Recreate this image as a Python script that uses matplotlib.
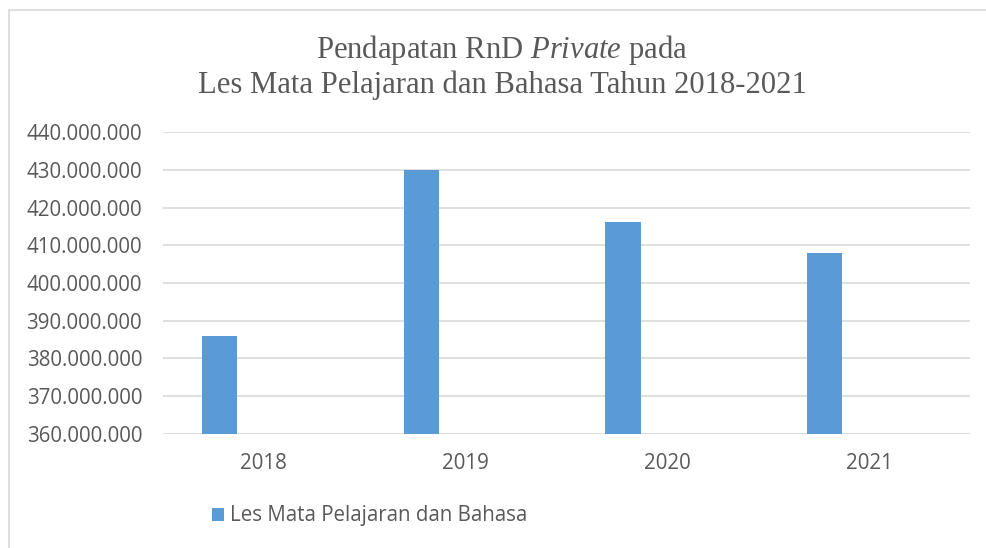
import matplotlib
matplotlib.use("Agg")
import matplotlib.pyplot as plt
from matplotlib.patches import Rectangle
from matplotlib.ticker import FuncFormatter
import numpy as np

categories = ["2018", "2019", "2020", "2021"]
values = [385_800_000, 429_900_000, 416_100_000, 408_000_000]
series_name = "Les Mata Pelajaran dan Bahasa"
yticks = [360_000_000, 370_000_000, 380_000_000, 390_000_000, 400_000_000,
          410_000_000, 420_000_000, 430_000_000, 440_000_000]

plt.rcParams['mathtext.fontset'] = 'custom'
plt.rcParams['mathtext.rm'] = 'Liberation Serif'
plt.rcParams['mathtext.it'] = 'Liberation Serif:italic'

W, H = 987, 548
fig = plt.figure(figsize=(W / 100, H / 100), dpi=100)
fig.patch.set_facecolor("white")

# chart border
fig.patches.append(Rectangle((9 / W, -0.05), 1.2, 1 - 10 / H + 0.05, transform=fig.transFigure,
                             fill=False, edgecolor="#d9d9d9", linewidth=1.2))

ax = fig.add_axes([163 / W, 1 - 433.7 / H, (970 - 163) / W, (433.7 - 132.3) / H])
x = np.arange(len(categories))
ax.bar(x - 0.22, values, width=0.174, color="#5B9BD5", label=series_name, zorder=3)
ax.set_xlim(-0.5, len(categories) - 0.5)
ax.set_ylim(yticks[0], yticks[-1])
ax.set_yticks(yticks)
ax.yaxis.set_major_formatter(FuncFormatter(lambda v, p: f"{int(v):,}".replace(",", ".")))
ax.set_xticks(x)
ax.set_xticklabels(categories)
ax.grid(axis="y", color="#d9d9d9", linewidth=1.2, zorder=0)
for s in ax.spines.values():
    s.set_visible(False)
ax.tick_params(length=0, colors="#595959", labelsize=14.8)
for lab in ax.get_yticklabels() + ax.get_xticklabels():
    lab.set_fontfamily("Open Sans")
ax.tick_params(axis="y", pad=15)
ax.tick_params(axis="x", pad=14)

fig.text(502 / W, 1 - 58 / H, r"Pendapatan RnD $\mathit{Private}$ pada", ha="center", va="baseline",
         fontsize=22.1, family="Liberation Serif", color="#595959")
fig.text(502 / W, 1 - 93 / H, "Les Mata Pelajaran dan Bahasa Tahun 2018-2021", ha="center", va="baseline",
         fontsize=22.1, family="Liberation Serif", color="#595959")

leg = fig.legend(loc="center left", bbox_to_anchor=(212 / W, 1 - 516 / H), frameon=False,
                 prop={"family": "Open Sans", "size": 14.8}, handlelength=0.6, handleheight=0.6,
                 handletextpad=0.3, borderpad=0, borderaxespad=0)
for t in leg.get_texts():
    t.set_color("#595959")

fig.savefig("out.png", dpi=100)
